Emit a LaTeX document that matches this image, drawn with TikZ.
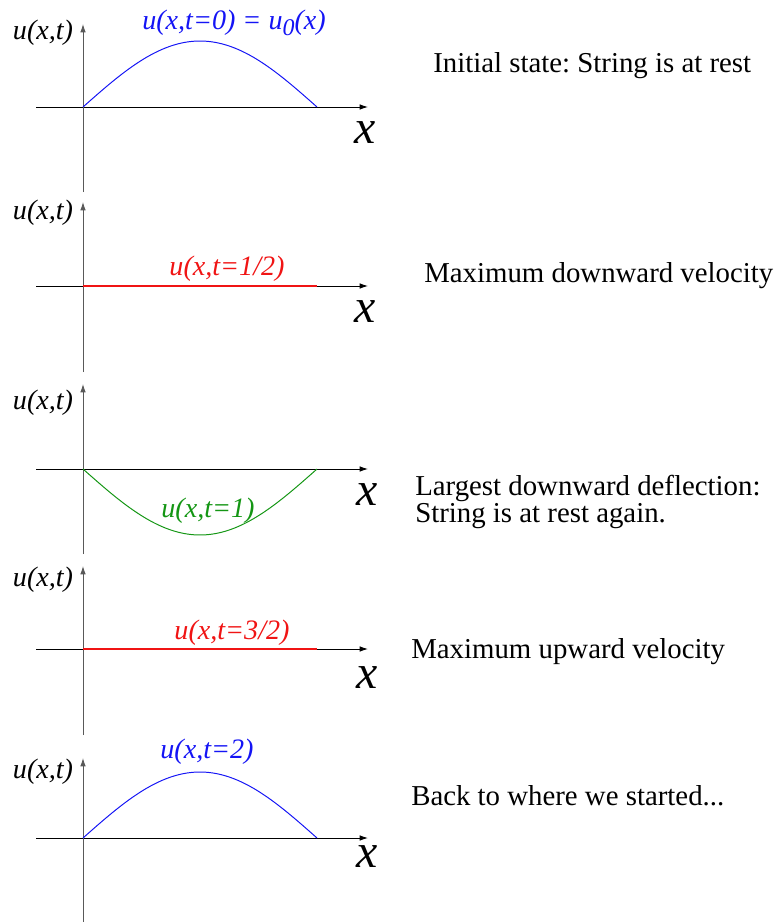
\documentclass[tikz,border=0pt]{standalone}
\usepackage{fontspec}
\setmainfont{Liberation Serif}
\usetikzlibrary{arrows.meta}
\definecolor{curveblue}{RGB}{20,20,245}
\definecolor{curvered}{RGB}{240,20,20}
\definecolor{curvegreen}{RGB}{20,150,20}
\frenchspacing
\tikzset{
  axis/.style={line width=0.65pt, -{Latex[length=6pt,width=4pt]}},
  lab/.style={font=\fontsize{20}{22}\selectfont\itshape, inner sep=0pt},
  xlab/.style={font=\fontsize{34}{36}\selectfont\itshape, inner sep=0pt},
  note/.style={font=\fontsize{20.5}{13.5}\selectfont, inner sep=0pt, anchor=west, align=left},
}
\begin{document}
\begin{tikzpicture}[x=0.025cm, y=-0.025cm]
    \useasboundingbox (0,0) rectangle (777,922);

    % t = 0
    \draw[axis] (36,107) -- (368,107);
    \draw[axis, black!65] (83,192) -- (83,24);
    \draw[curveblue, line width=0.7pt] plot[domain=0:180, samples=60] ({83+1.3*\x}, {107-66*sin(\x)});
    \node[lab] (u0) at (43,33) {u(x,t)};
    \node[lab, curveblue] (c0) at (234,23) {u(x,t=0) = u\raisebox{-0.45ex}{\fontsize{17}{17}\selectfont 0}(x)};
    \node[xlab] (x0) at (365,133) {x};
    \node[note] (n0) at (433,66) {Initial state: String is at rest};

    % t = 1/2
    \draw[axis] (36,286) -- (368,286);
    \draw[axis, black!65] (83,372) -- (83,202);
    \draw[curvered, line width=0.8pt] (83,286) -- (317,286);
    \node[lab] (u1) at (43,213) {u(x,t)};
    \node[lab, curvered] (c1) at (227,269) {u(x,t=1/2)};
    \node[xlab] (x1) at (365,312) {x};
    \node[note] (n1) at (424,276) {Maximum downward velocity};

    % t = 1
    \draw[axis] (36,469) -- (368,469);
    \draw[axis, black!65] (83,554) -- (83,384);
    \draw[curvegreen, line width=0.7pt] plot[domain=0:180, samples=60] ({83+1.3*\x}, {469+66*sin(\x)});
    \node[lab] (u2) at (43,403) {u(x,t)};
    \node[lab, curvegreen] (c2) at (208,511) {u(x,t=1)};
    \node[xlab] (x2) at (367,495) {x};
    \node[note] (n2) at (415,502) {Largest downward deflection:\\String is at rest again.};

    % t = 3/2
    \draw[axis] (36,649) -- (368,649);
    \draw[axis, black!65] (83,735) -- (83,566);
    \draw[curvered, line width=0.8pt] (83,649) -- (317,649);
    \node[lab] (u3) at (43,580) {u(x,t)};
    \node[lab, curvered] (c3) at (232,633) {u(x,t=3/2)};
    \node[xlab] (x3) at (367,678) {x};
    \node[note] (n3) at (411,652) {Maximum upward velocity};

    % t = 2
    \draw[axis] (36,838) -- (368,838);
    \draw[axis, black!65] (83,922) -- (83,758);
    \draw[curveblue, line width=0.7pt] plot[domain=0:180, samples=60] ({83+1.3*\x}, {838-66*sin(\x)});
    \node[lab] (u4) at (43,772) {u(x,t)};
    \node[lab, curveblue] (c4) at (207,752) {u(x,t=2)};
    \node[xlab] (x4) at (367,857) {x};
    \node[note] (n4) at (411,796) {Back to where we started...};
\end{tikzpicture}
\end{document}
